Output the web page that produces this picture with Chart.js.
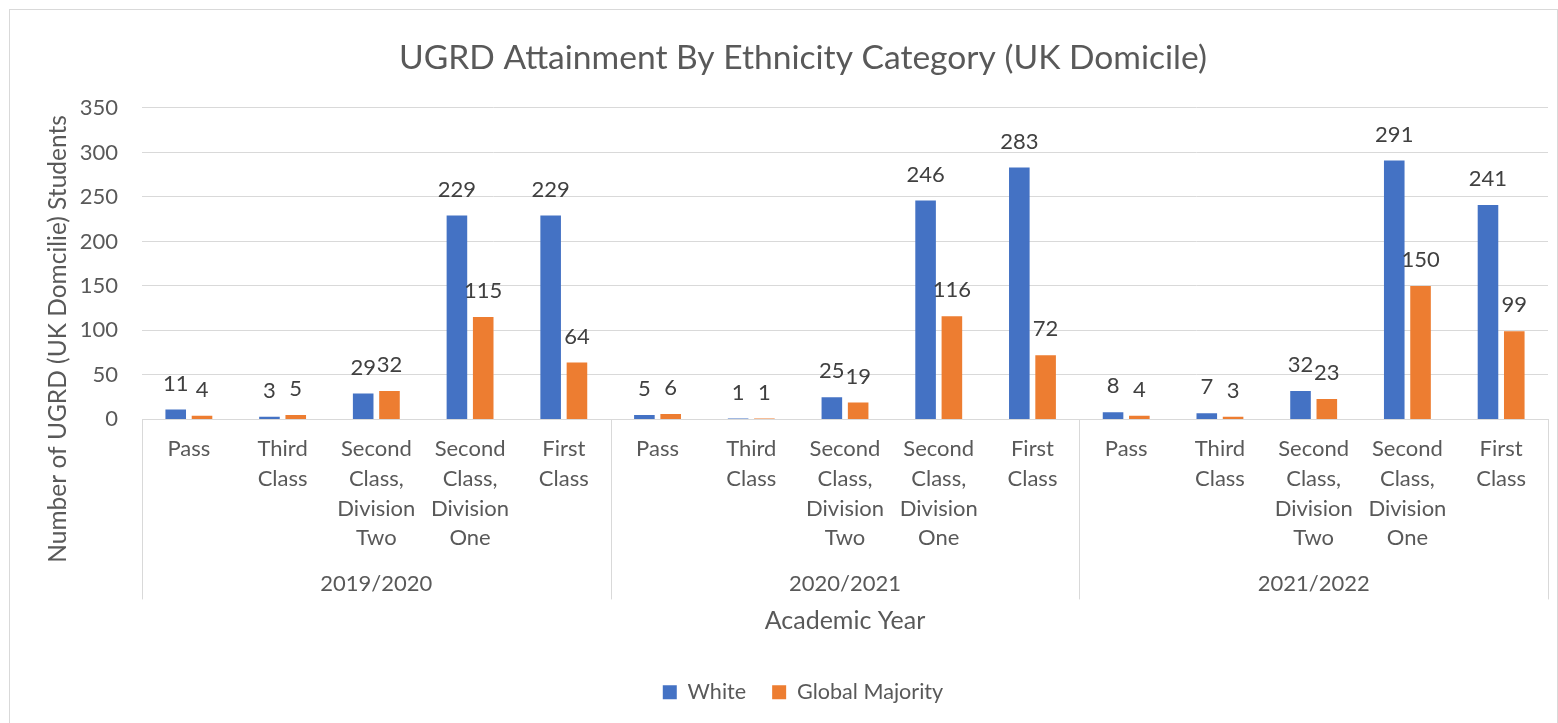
<!DOCTYPE html>
<html>
<head>
<meta charset="utf-8">
<title>UGRD Attainment By Ethnicity Category</title>
<script src="https://cdn.jsdelivr.net/npm/chart.js@4.4.1/dist/chart.umd.min.js"></script>
<style>
  html, body { margin: 0; padding: 0; background: #fff; }
</style>
</head>
<body>
<canvas id="myChart" width="1558" height="723"></canvas>
<script>
'use strict';

// data
const years = ['2019/2020', '2020/2021', '2021/2022'];
const grades = [
  ['Pass'],
  ['Third', 'Class'],
  ['Second', 'Class,', 'Division', 'Two'],
  ['Second', 'Class,', 'Division', 'One'],
  ['First', 'Class']
];
const white = [11, 3, 29, 229, 229, 5, 1, 25, 246, 283, 8, 7, 32, 291, 241];
const globalMajority = [4, 5, 32, 115, 64, 6, 1, 19, 116, 72, 4, 3, 23, 150, 99];
const yTicks = [0, 50, 100, 150, 200, 250, 300, 350];

const labels = [];
years.forEach(() => grades.forEach(g => labels.push(g)));

const GRID = '#d9d9d9';
const TEXT = '#595959';
Chart.defaults.font.family = 'Lato, "Open Sans", sans-serif';
Chart.defaults.color = TEXT;

// white background and the thin outer frame
const chartFrame = {
  id: 'chartFrame',
  beforeDraw(chart) {
    const c = chart.ctx;
    c.save();
    c.fillStyle = '#fff';
    c.fillRect(0, 0, chart.width, chart.height);
    c.strokeStyle = GRID;
    c.lineWidth = 1;
    c.strokeRect(9.5, 9.5, 1548, 730);
    c.restore();
  }
};

// vertical dividers between the year groups, below the baseline
const groupLines = {
  id: 'groupLines',
  afterDraw(chart) {
    const x = chart.scales.x;
    const c = chart.ctx;
    const step = x.width / labels.length;
    c.save();
    c.strokeStyle = GRID;
    c.lineWidth = 1;
    c.beginPath();
    for (let i = 0; i <= labels.length; i += grades.length) {
      const px = Math.round(x.left + step * i) + 0.5;
      c.moveTo(px, x.top);
      c.lineTo(px, x.top + 180);
    }
    c.stroke();
    c.restore();
  }
};

// value labels above each bar
const valueLabels = {
  id: 'valueLabels',
  afterDatasetsDraw(chart) {
    const c = chart.ctx;
    c.save();
    c.font = '22px Lato, "Open Sans", sans-serif';
    c.fillStyle = '#404040';
    c.textAlign = 'center';
    c.textBaseline = 'middle';
    chart.data.datasets.forEach((ds, di) => {
      chart.getDatasetMeta(di).data.forEach((bar, i) => {
        c.fillText(String(ds.data[i]), bar.x, bar.y - 26);
      });
    });
    c.restore();
  }
};

// y axis title, centred on plot + category labels like the original
const yTitle = {
  id: 'yTitle',
  afterDraw(chart) {
    const a = chart.chartArea;
    const c = chart.ctx;
    c.save();
    c.translate(a.left - 84, a.top + 231);
    c.rotate(-Math.PI / 2);
    c.font = '24.5px Lato, "Open Sans", sans-serif';
    c.fillStyle = TEXT;
    c.textAlign = 'center';
    c.textBaseline = 'middle';
    c.fillText('Number of UGRD (UK Domcilie) Students', 0, 0);
    c.restore();
  }
};

const ctx = document.getElementById('myChart').getContext('2d');
const myChart = new Chart(ctx, {
  type: 'bar',
  data: {
    labels: labels,
    datasets: [{
      label: 'White',
      data: white,
      backgroundColor: '#4472C4',
      borderWidth: 0,
      categoryPercentage: 0.561,
      barPercentage: 0.783
    }, {
      label: 'Global Majority',
      data: globalMajority,
      backgroundColor: '#ED7D31',
      borderWidth: 0,
      categoryPercentage: 0.561,
      barPercentage: 0.783
    }]
  },
  options: {
    responsive: false,
    animation: false,
    layout: { padding: { left: 58, right: 10, top: 0, bottom: 10 } },
    plugins: {
      title: {
        display: true,
        text: 'UGRD Attainment By Ethnicity Category (UK Domicile)',
        color: TEXT,
        font: { size: 33.6, weight: 'normal' },
        padding: { top: 37.8, bottom: 29.8 }
      },
      legend: {
        position: 'bottom',
        labels: {
          boxWidth: 14,
          boxHeight: 14,
          padding: 26,
          color: TEXT,
          font: { size: 21.6 }
        }
      },
      tooltip: { enabled: false }
    },
    scales: {
      x: {
        position: 'bottom',
        grid: { display: false, drawTicks: false },
        border: { display: true, color: GRID },
        ticks: {
          color: TEXT,
          padding: 15,
          maxRotation: 0,
          autoSkip: false,
          font: { size: 22, lineHeight: 1.35 }
        },
        afterFit(scale) { scale.height = 134; }
      },
      x2: {
        type: 'category',
        position: 'bottom',
        labels: years,
        offset: true,
        weight: 1,
        grid: { display: false, drawTicks: false },
        border: { display: false },
        ticks: { color: TEXT, padding: 16, font: { size: 22, lineHeight: 1.35 } },
        title: {
          display: true,
          text: 'Academic Year',
          color: TEXT,
          font: { size: 25 },
          padding: { top: 7, bottom: 19 }
        },
        afterFit(scale) { scale.height = 102; }
      },
      y: {
        min: 0,
        max: 350,
        grid: { color: GRID, drawTicks: false },
        border: { display: false },
        ticks: { color: TEXT, padding: 24, font: { size: 22 } },
        afterBuildTicks(scale) { scale.ticks = yTicks.map(v => ({ value: v })); },
        afterFit(scale) { scale.width = 84; }
      }
    }
  },
  plugins: [chartFrame, groupLines, valueLabels, yTitle]
});
</script>
</body>
</html>
